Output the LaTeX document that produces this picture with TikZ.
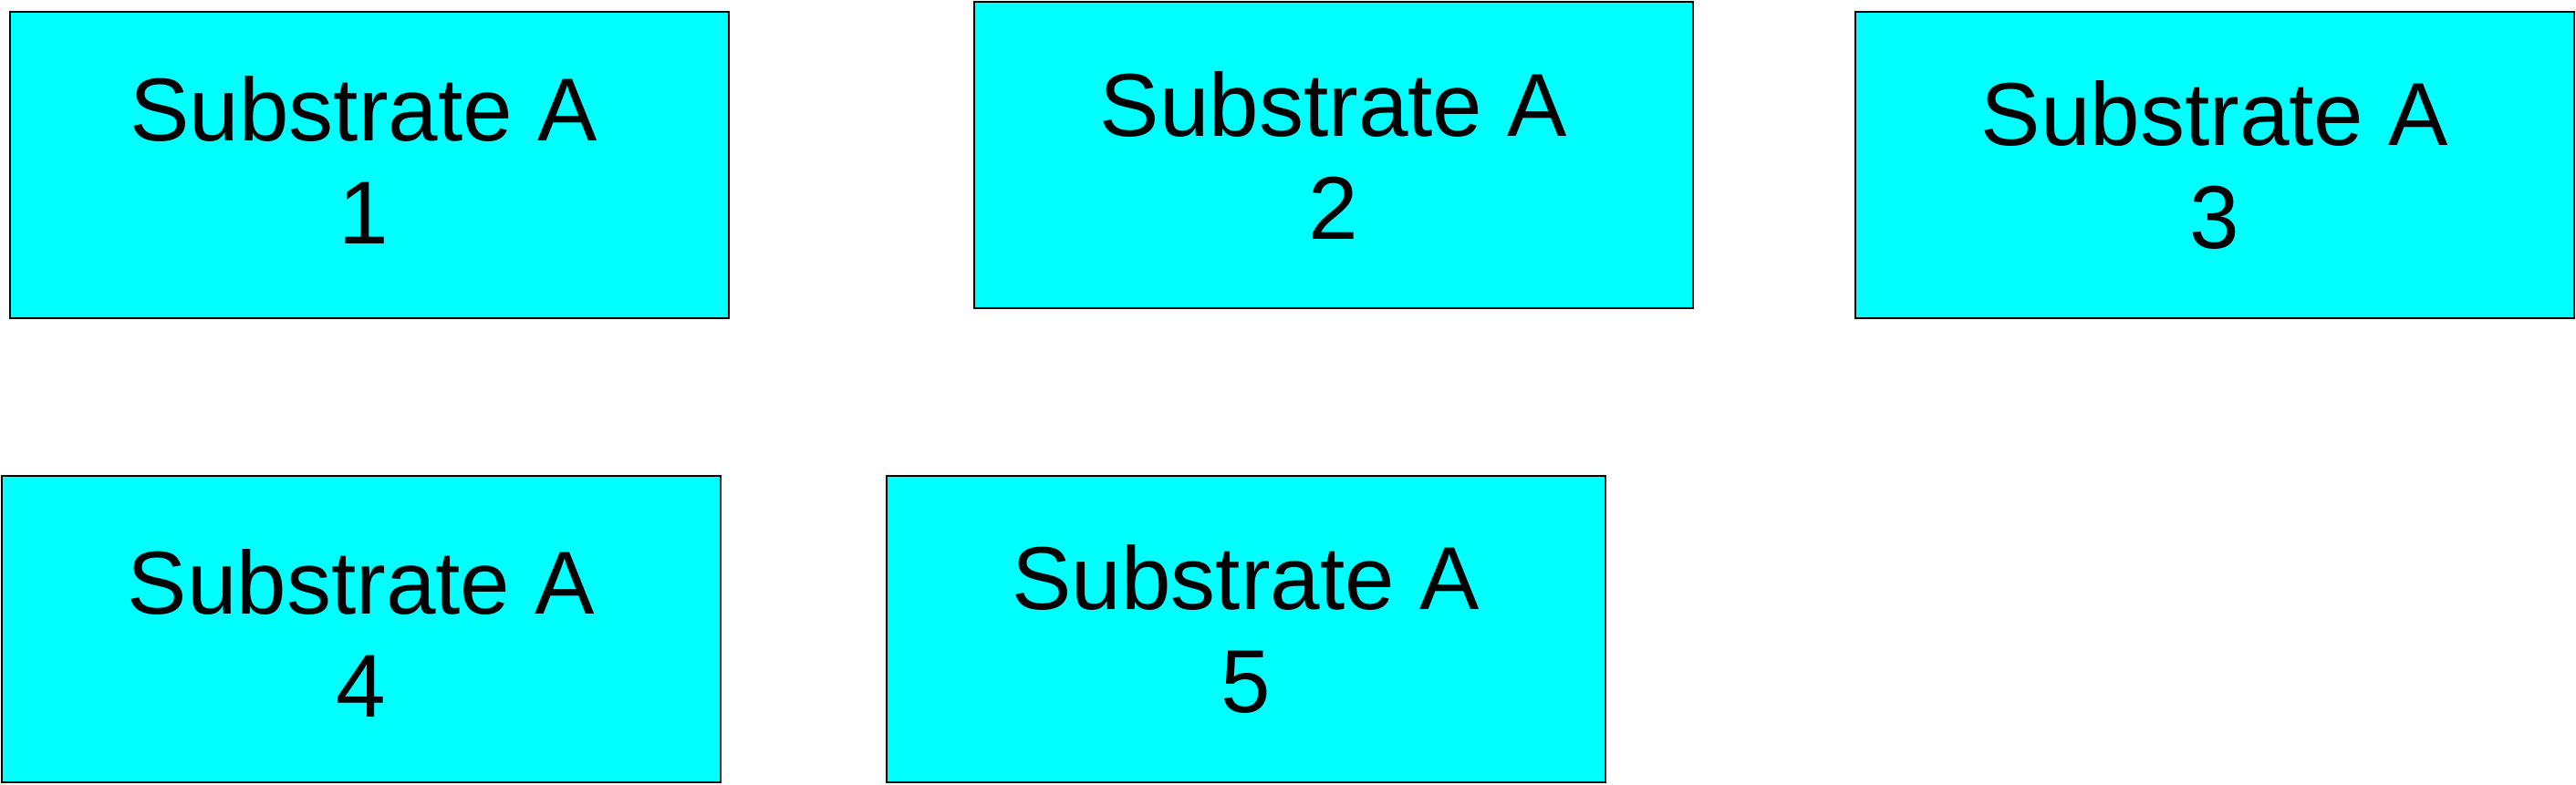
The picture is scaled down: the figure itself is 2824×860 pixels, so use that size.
\documentclass[tikz,border=0pt]{standalone}
\usepackage{fontspec}
\setmainfont{Liberation Sans}
\definecolor{boxcyan}{RGB}{0,255,255}
\begin{document}
\begin{tikzpicture}[x=1pt,y=-1pt,
  sbox/.style={draw=black, line width=2pt, fill=boxcyan, rectangle,
    minimum width=788pt, minimum height=336pt, inner sep=0pt,
    align=center, font=\fontsize{98}{113}\selectfont}]
\useasboundingbox (0,0) rectangle (2824,860);
\node[sbox, text depth=12pt] (b1) at (404.5,181) {Substrate A\hspace*{12pt}\\1\hspace*{12pt}};
\node[sbox] (b2) at (1462,170) {Substrate A\\2};
\node[sbox] (b3) at (2428,181) {Substrate A\\3};
\node[sbox, text height=192pt] (b4) at (396,690) {Substrate A\\4};
\node[sbox] (b5) at (1365.5,690) {Substrate A\\5};
\end{tikzpicture}
\end{document}
